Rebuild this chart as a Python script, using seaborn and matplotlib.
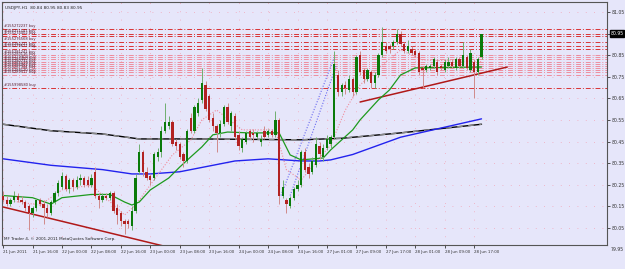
import numpy as np
import pandas as pd
import matplotlib
matplotlib.use("Agg")
import matplotlib.pyplot as plt
import seaborn as sns

# ==========================
# DATA  (USDJPY H1)
# ==========================
opens = [80.20, 80.18, 80.16, 80.18, 80.20, 80.18, 80.17, 80.15, 80.12, 80.14,
         80.18, 80.16, 80.14, 80.12, 80.17, 80.21, 80.24, 80.29, 80.23, 80.27,
         80.24, 80.27, 80.28, 80.27, 80.25, 80.31, 80.20, 80.18, 80.20, 80.19,
         80.21, 80.14, 80.12, 80.08, 80.08, 80.06, 80.13, 80.31, 80.40, 80.31,
         80.29, 80.28, 80.38, 80.40, 80.50, 80.52, 80.54, 80.45, 80.44, 80.39,
         80.36, 80.56, 80.50, 80.58, 80.64, 80.71, 80.66, 80.56, 80.52, 80.49,
         80.53, 80.61, 80.52, 80.57, 80.48, 80.42, 80.45, 80.50, 80.49, 80.47,
         80.45, 80.50, 80.48, 80.50, 80.48, 80.55, 80.20, 80.18, 80.15, 80.19,
         80.23, 80.25, 80.40, 80.33, 80.31, 80.34, 80.43, 80.38, 80.42, 80.44,
         80.47, 80.76, 80.68, 80.71, 80.69, 80.74, 80.68, 80.85, 80.78, 80.74,
         80.77, 80.72, 80.76, 80.85, 80.89, 80.89, 80.89, 80.91, 80.95, 80.90,
         80.87, 80.88, 80.87, 80.86, 80.79, 80.78, 80.79, 80.80, 80.82, 80.80,
         80.78, 80.80, 80.82, 80.79, 80.83, 80.80, 80.84, 80.78, 80.82, 80.77,
         80.84]
highs = [80.22, 80.20, 80.19, 80.22, 80.21, 80.20, 80.18, 80.16, 80.15, 80.19,
         80.19, 80.18, 80.16, 80.18, 80.22, 80.27, 80.31, 80.30, 80.28, 80.28,
         80.29, 80.30, 80.29, 80.29, 80.30, 80.33, 80.21, 80.21, 80.21, 80.22,
         80.22, 80.16, 80.13, 80.09, 80.09, 80.15, 80.30, 80.44, 80.41, 80.33,
         80.30, 80.40, 80.42, 80.52, 80.63, 80.57, 80.55, 80.46, 80.45, 80.40,
         80.51, 80.58, 80.62, 80.65, 80.79, 80.73, 80.67, 80.58, 80.53, 80.55,
         80.62, 80.63, 80.59, 80.58, 80.50, 80.47, 80.50, 80.51, 80.51, 80.50,
         80.48, 80.52, 80.51, 80.51, 80.59, 80.56, 80.27, 80.19, 80.20, 80.24,
         80.27, 80.41, 80.42, 80.35, 80.38, 80.47, 80.45, 80.44, 80.48, 80.48,
         80.87, 80.78, 80.72, 80.73, 80.76, 80.75, 80.85, 80.87, 80.79, 80.79,
         80.78, 80.77, 80.86, 80.98, 80.91, 80.90, 80.92, 80.97, 80.96, 80.91,
         80.92, 80.89, 80.88, 80.87, 80.80, 80.81, 80.81, 80.84, 80.83, 80.81,
         80.83, 80.84, 80.83, 80.84, 80.84, 80.91, 80.85, 80.88, 80.83, 80.84,
         80.95]
lows = [80.17, 80.15, 80.15, 80.17, 80.17, 80.16, 80.13, 80.04, 80.10, 80.13,
        80.15, 80.07, 80.10, 80.11, 80.16, 80.20, 80.23, 80.22, 80.21, 80.22,
        80.23, 80.25, 80.24, 80.24, 80.24, 80.19, 80.14, 80.17, 80.18, 80.18,
        80.12, 80.07, 80.06, 80.02, 80.05, 80.04, 80.12, 80.30, 80.29, 80.27,
        80.25, 80.27, 80.36, 80.38, 80.49, 80.51, 80.43, 80.41, 80.37, 80.33,
        80.35, 80.49, 80.49, 80.57, 80.63, 80.59, 80.54, 80.50, 80.40, 80.47,
        80.52, 80.53, 80.50, 80.46, 80.41, 80.40, 80.44, 80.46, 80.45, 80.46,
        80.43, 80.46, 80.47, 80.47, 80.47, 80.16, 80.19, 80.12, 80.14, 80.18,
        80.22, 80.24, 80.31, 80.28, 80.30, 80.33, 80.37, 80.36, 80.41, 80.42,
        80.46, 80.66, 80.66, 80.67, 80.68, 80.66, 80.67, 80.76, 80.72, 80.73,
        80.70, 80.70, 80.75, 80.84, 80.86, 80.86, 80.88, 80.90, 80.89, 80.86,
        80.86, 80.85, 80.84, 80.76, 80.70, 80.77, 80.78, 80.79, 80.76, 80.78,
        80.77, 80.79, 80.79, 80.78, 80.79, 80.79, 80.78, 80.77, 80.65, 80.76,
        80.83]
closes = [80.18, 80.16, 80.18, 80.20, 80.18, 80.17, 80.14, 80.12, 80.14, 80.18,
          80.16, 80.14, 80.12, 80.17, 80.21, 80.26, 80.29, 80.23, 80.27, 80.24,
          80.27, 80.28, 80.25, 80.25, 80.28, 80.20, 80.18, 80.20, 80.19, 80.21,
          80.13, 80.11, 80.08, 80.07, 80.07, 80.13, 80.28, 80.40, 80.31, 80.28,
          80.27, 80.39, 80.40, 80.50, 80.54, 80.54, 80.44, 80.43, 80.38, 80.36,
          80.50, 80.50, 80.61, 80.63, 80.72, 80.60, 80.55, 80.52, 80.49, 80.53,
          80.61, 80.54, 80.58, 80.47, 80.43, 80.46, 80.49, 80.47, 80.48, 80.49,
          80.46, 80.47, 80.50, 80.48, 80.55, 80.20, 80.24, 80.16, 80.19, 80.23,
          80.25, 80.40, 80.32, 80.30, 80.36, 80.44, 80.39, 80.42, 80.46, 80.47,
          80.81, 80.68, 80.71, 80.70, 80.74, 80.68, 80.84, 80.77, 80.74, 80.78,
          80.72, 80.76, 80.85, 80.91, 80.87, 80.88, 80.91, 80.95, 80.90, 80.87,
          80.89, 80.86, 80.85, 80.77, 80.78, 80.80, 80.80, 80.83, 80.77, 80.79,
          80.82, 80.82, 80.80, 80.83, 80.80, 80.85, 80.79, 80.86, 80.77, 80.83,
          80.95]

time_labels = ["21 Jun 2011", "21 Jun 16:00", "22 Jun 00:00", "22 Jun 08:00",
               "22 Jun 16:00", "23 Jun 00:00", "23 Jun 08:00", "23 Jun 16:00",
               "24 Jun 00:00", "24 Jun 08:00", "24 Jun 16:00", "27 Jun 01:00",
               "27 Jun 09:00", "27 Jun 17:00", "28 Jun 01:00", "28 Jun 09:00",
               "28 Jun 17:00"]
price_ticks = [80.05, 80.15, 80.25, 80.35, 80.45, 80.55, 80.65, 80.75, 80.85, 80.95, 81.05]

# moving averages (bar, price)
ma_slow_bar = [0, 13, 27, 37, 54, 81, 92, 108, 130]
ma_slow = [80.53, 80.50, 80.485, 80.462, 80.462, 80.458, 80.465, 80.49, 80.53]
ma_blue_bar = [0, 13, 27, 35, 40, 48, 54, 63, 72, 81, 86, 89, 95, 108, 130]
ma_blue = [80.37, 80.34, 80.32, 80.30, 80.30, 80.31, 80.33, 80.36, 80.37, 80.36,
           80.36, 80.365, 80.39, 80.47, 80.555]
ma_green_bar = [0, 8, 13, 16, 24, 29, 33, 35, 37, 40, 45, 48, 51, 54, 57, 61, 67,
                75, 78, 81, 87, 89, 95, 97, 102, 105, 108, 112, 130]
ma_green = [80.20, 80.19, 80.16, 80.19, 80.205, 80.205, 80.17, 80.156, 80.17,
            80.226, 80.281, 80.332, 80.379, 80.425, 80.481, 80.494, 80.49, 80.49,
            80.388, 80.365, 80.374, 80.411, 80.504, 80.55, 80.643, 80.689, 80.758,
            80.791, 80.795]
ma_fast_bar = [0, 10, 16, 24, 27, 33, 36, 40, 46, 51, 54, 58, 65, 74, 77, 81, 89,
               93, 97, 103, 108, 114, 130]
ma_fast = [80.18, 80.156, 80.226, 80.249, 80.203, 80.11, 80.156, 80.249, 80.388,
           80.457, 80.55, 80.596, 80.504, 80.504, 80.319, 80.272, 80.434, 80.596,
           80.712, 80.805, 80.874, 80.828, 80.819]

# trend lines (bar, price)
trend_down_bar = [0, 62]
trend_down = [80.147, 79.89]
trend_up_bar = [97, 137]
trend_up = [80.633, 80.795]
fan_a_bar = [75.5, 90]
fan_a = [80.20, 80.84]
fan_b_bar = [78, 90.5]
fan_b = [80.20, 80.80]

# open orders
order_prices = [80.97, 80.95, 80.94, 80.91, 80.89, 80.88, 80.85, 80.84, 80.83,
                80.82, 80.81, 80.80, 80.79, 80.78, 80.77, 80.76, 80.70]
order_tickets = ["155272237", "155271147", "155274402", "155276568", "155282221",
                 "155278671", "155281241", "155283116", "155279904", "155284450",
                 "155280732", "155285519", "155286063", "155287344", "155288120",
                 "155289017", "155998580"]

# ==========================
# STYLE
# ==========================
BG = "#E6E6FA"
sns.set_style("white", rc={"axes.facecolor": BG, "figure.facecolor": BG})
plt.rcParams["font.family"] = ["DejaVu Sans"]

fig = plt.figure(figsize=(6.25, 2.69), dpi=100)
ax = fig.add_axes([2 / 625, 24 / 269, 605 / 625, 243 / 269])

df = pd.DataFrame({"o": opens, "h": highs, "l": lows, "c": closes})
df["bar"] = np.arange(len(df))
up = df["c"] >= df["o"]

# ==========================
# GRID
# ==========================
for p in price_ticks:
    ax.axhline(p, color="#F2A6B8", lw=0.6, ls=(0, (1, 9)), zorder=0)
for b in range(0, 129, 8):
    ax.axvline(b, color="#F2A6B8", lw=0.6, ls=(0, (1, 9)), zorder=0)

# ==========================
# ORDER LINES
# ==========================
for p, t in zip(order_prices, order_tickets):
    band = 80.745 < p < 80.86
    ax.axhline(p, color="#F07080" if band else "#D82020", lw=0.7,
               ls=(0, (5, 2, 1, 2)), alpha=0.75 if band else 0.9, zorder=1)
    ax.text(0.004, p + 0.004, f"#{t} buy", fontsize=2.6, color="#5a2030",
            transform=ax.get_yaxis_transform(), va="bottom", ha="left", zorder=6)

# ==========================
# INDICATORS
# ==========================
sns.lineplot(x=ma_slow_bar, y=ma_slow, ax=ax, color="black", lw=1.0, legend=False, zorder=2)
sns.lineplot(x=ma_slow_bar, y=ma_slow, ax=ax, color="#888888", lw=1.0,
             linestyle=(0, (4, 4)), legend=False, zorder=2)
sns.lineplot(x=ma_blue_bar, y=ma_blue, ax=ax, color="#2222EE", lw=1.0, legend=False, zorder=2)
sns.lineplot(x=ma_green_bar, y=ma_green, ax=ax, color="#1E9A1E", lw=0.9, legend=False, zorder=4)
sns.lineplot(x=ma_fast_bar, y=ma_fast, ax=ax, color="#F08C9C", lw=0.8,
             linestyle=(0, (1, 1.5)), legend=False, zorder=3)
sns.lineplot(x=fan_a_bar, y=fan_a, ax=ax, color="#6A6AF0", lw=0.8,
             linestyle=(0, (1, 1.5)), legend=False, zorder=3)
sns.lineplot(x=fan_b_bar, y=fan_b, ax=ax, color="#6A6AF0", lw=0.8,
             linestyle=(0, (1, 1.5)), legend=False, zorder=3)
sns.lineplot(x=trend_down_bar, y=trend_down, ax=ax, color="#B01818", lw=1.1, legend=False, zorder=3)
sns.lineplot(x=trend_up_bar, y=trend_up, ax=ax, color="#B01818", lw=1.1, legend=False, zorder=3)

# ==========================
# CANDLES
# ==========================
body = np.maximum((df["c"] - df["o"]).abs(), 0.005)
ax.vlines(df["bar"][up], df["l"][up], df["h"][up], color="#6FAF6F", lw=0.7, zorder=4)
ax.vlines(df["bar"][~up], df["l"][~up], df["h"][~up], color="#D08A8A", lw=0.7, zorder=4)
ax.bar(df["bar"][up], body[up], bottom=df["o"][up], width=0.62,
       color="#0A7A0A", linewidth=0, zorder=5)
ax.bar(df["bar"][~up], body[~up], bottom=df["c"][~up], width=0.62,
       color="#B22222", linewidth=0, zorder=5)

# ==========================
# AXES
# ==========================
ax.set_xlim(-0.3, 164.1)
ax.set_ylim(79.971, 81.096)

ax.yaxis.tick_right()
ax.set_yticks(price_ticks)
ax.set_yticklabels(["" if p == 80.95 else f"{p:.2f}" for p in price_ticks])
ax.tick_params(axis="y", labelsize=3.3, length=2, width=0.6, pad=1.2,
               colors="#333333", right=True)
ax.set_xticks(list(range(0, 129, 8)))
ax.set_xticklabels(time_labels, ha="left")
ax.tick_params(axis="x", labelsize=2.9, length=2, width=0.6, pad=1.5,
               colors="#333333", bottom=True)
ax.set_xlabel("")
ax.set_ylabel("")

ax.text(1.006, 80.95, "80.95", transform=ax.get_yaxis_transform(), fontsize=3.3,
        color="white", va="center", ha="left", clip_on=False,
        bbox=dict(boxstyle="square,pad=0.15", fc="black", ec="black"))
ax.text(1.006, 79.95, "79.95", transform=ax.get_yaxis_transform(), fontsize=3.3,
        color="#333333", va="center", ha="left", clip_on=False)

for side in ["left", "bottom", "right", "top"]:
    ax.spines[side].set_visible(True)
    ax.spines[side].set_color("#555555")
    ax.spines[side].set_linewidth(0.8)

ax.text(0.005, 0.985, "USDJPY,H1  80.84 80.95 80.83 80.95", transform=ax.transAxes,
        fontsize=3.1, color="#222222", va="top", ha="left")
ax.text(0.003, 0.015, "MF Trader 4, \u00a9 2001-2011 MetaQuotes Software Corp.",
        transform=ax.transAxes, fontsize=3.0, color="#222222", va="bottom", ha="left")

fig.savefig("out.png", dpi=100, facecolor=BG)
